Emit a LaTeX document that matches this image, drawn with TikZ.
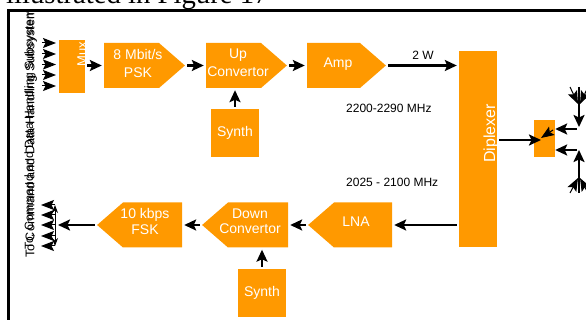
\documentclass[tikz,border=0pt]{standalone}
\usepackage{fontspec}
\setmainfont{Liberation Sans}
\newfontfamily\titlefont{Liberation Serif}
\usepackage{tikz}
\usetikzlibrary{arrows.meta,shapes.symbols}
\definecolor{boxorange}{HTML}{FF9900}
\tikzset{
  block/.style={rectangle,fill=boxorange,text=white,inner sep=0pt,align=center,font=\fontsize{14}{18}\selectfont},
  sigto/.style={signal,signal to=#1,signal pointer angle=82,fill=boxorange,inner sep=0pt,minimum height=45pt},
  boxtext/.style={text=white,inner sep=0pt,align=center,font=\fontsize{14}{18}\selectfont},
  conn/.style={-{Stealth[length=12pt,width=11pt,inset=2.5pt]},line width=2.2pt,shorten <=2pt,shorten >=2pt},
  stub/.style={-{Stealth[length=13pt,width=10pt,inset=2.5pt]},line width=1pt},
  note/.style={font=\fontsize{12}{14}\selectfont,inner sep=0pt},
  side/.style={rotate=90,anchor=west,font=\fontsize{12.6}{15}\selectfont,inner sep=0pt}
}
\begin{document}
\begin{tikzpicture}[x=1pt,y=-1pt]
  \useasboundingbox (0,0) rectangle (586,320);
  \clip (0,0) rectangle (586,320);
  \node (title) [anchor=base west,inner sep=0pt,font=\titlefont\fontsize{28.7}{30}\selectfont] at (6,4) {illustrated in Figure 17};
  \draw[line width=3pt] (8,10.5) rectangle (600,340);
  % upper chain
  \node (mux) [block,minimum width=26pt,minimum height=53pt] at (72,66.5) {};
  \node (psk) [sigto=east,text width=55pt] at (131.5,65.5) {};
  \node (up) [sigto=east,text width=55pt] at (233.5,65.5) {};
  \node (amp) [sigto=east,text width=53pt] at (333.5,65.5) {};
  \node (synthup) [block,minimum width=48pt,minimum height=48pt] at (235,133) {Synth};
  \node (psktext) [boxtext] at (138,63) {8 Mbit/s\\PSK};
  \node (uptext) [boxtext] at (238,63) {Up\\Convertor};
  \node (amptext) [boxtext] at (338,64) {Amp};
  % lower chain
  \node (fsk) [sigto=west,text width=59pt] at (152.5,225) {};
  \node (down) [sigto=west,text width=60pt] at (258,225) {};
  \node (lna) [sigto=west,text width=58pt] at (363,225) {};
  \node (synthdown) [block,minimum width=48pt,minimum height=48pt] at (262,293) {Synth};
  \node (fsktext) [boxtext,font=\fontsize{14}{15.5}\selectfont] at (145,221.5) {10 kbps\\FSK};
  \node (downtext) [boxtext,font=\fontsize{14}{15.5}\selectfont] at (250,221.5) {Down\\Convertor};
  \node (lnatext) [boxtext] at (356,222) {LNA};
  % right side
  \node (diplexer) [block,minimum width=38pt,minimum height=196pt] at (478,149) {};
  \node (hybrid) [block,minimum width=21pt,minimum height=37pt] at (544.5,138.5) {};
  \node (muxtext) [side,text=white,font=\fontsize{13}{15}\selectfont] at (82,67) {Mux};
  \node (diptext) [side,text=white,font=\fontsize{16}{18}\selectfont] at (491,163) {Diplexer};
  % text labels
  \node (power) [note] at (423,55) {2 W};
  \node (txband) [note,anchor=west] at (346,108) {2200-2290 MHz};
  \node (rxband) [note,anchor=west] at (346,182) {2025 - 2100 MHz};
  \node (cdhout) [side] at (31,258) {To Command and Data Handling Subsystem};
  \node (cdhin) [side,font=\fontsize{12}{15}\selectfont] at (30,250) {To, Command and Data Handling Subsystem};
  % chain arrows
  \coordinate (hybridin) at (543,140);
  \path[conn]
    (mux.east |- psk.west) edge (psk.west)
    (psk.east) edge (up.west)
    (up.east) edge (amp.west)
    (amp.east) edge (amp.east -| diplexer.west)
    (synthup.north) edge (up.south -| synthup.north)
    (lna.west) edge (down.east)
    (down.west) edge (fsk.east)
    (diplexer.west |- lna.east) edge (lna.east)
    (synthdown.north) edge (down.south -| synthdown.north)
    (diplexer.east |- hybridin) edge (hybridin);
  % inputs and outputs on the left
  \foreach \i/\y in {1/43,2/54,3/64.5,4/75,5/86}{
    \coordinate (in\i) at (42,\y);
    \coordinate (inend\i) at (56,\y);
    \draw[stub] (in\i) -- (inend\i);
  }
  \foreach \i/\y in {1/205,2/215,3/225,4/236,5/246}{
    \coordinate (outa\i) at (55,\y);
    \coordinate (outb\i) at (41,\y);
    \draw[stub] (outa\i) -- (outb\i);
  }
  \draw[conn,shorten >=0pt] (fsk.west) -- (58,225);
  \draw[stub,-{Stealth[length=8pt,width=6pt]}] (outa3) -- (outa1);
  \draw[stub,-{Stealth[length=8pt,width=6pt]}] (outa3) -- (outa5);
  % antennas
  \coordinate (anttop) at (579,87);
  \coordinate (antbot) at (579,193);
  \coordinate (antjoina) at (579,127);
  \coordinate (antjoinb) at (579,150);
  \draw[conn,shorten <=0pt,shorten >=0pt] (anttop) -- (antjoina);
  \draw[conn,shorten <=0pt,shorten >=0pt] (antbot) -- (antjoinb);
  \draw[stub] (570,87) -- (578,104);
  \draw[stub] (588,87) -- (580,104);
  \draw[stub] (570,193) -- (578,178);
  \draw[stub] (588,193) -- (580,178);
  \draw[conn,shorten <=0pt,shorten >=0pt] (577,129) -- (hybrid.east |- 577,129);
  \draw[conn,shorten <=0pt,shorten >=0pt] (577,150) -- (hybrid.east |- 577,150);
  \draw[stub] (553,130) -- (541,138);
\end{tikzpicture}
\end{document}
